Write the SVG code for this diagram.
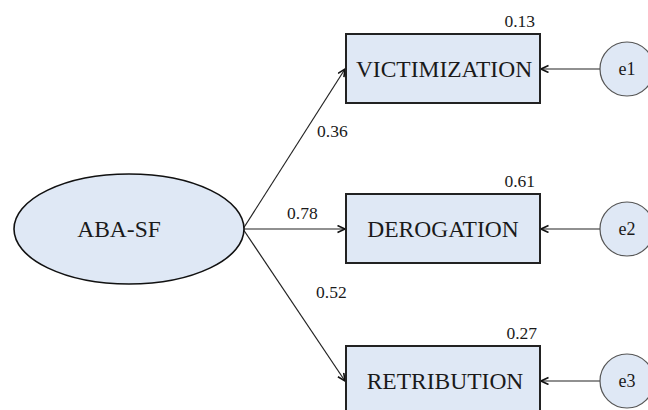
<svg xmlns="http://www.w3.org/2000/svg" width="648" height="410" viewBox="0 0 648 410">
  <defs>
    <marker id="arr" markerWidth="10" markerHeight="10" refX="8.5" refY="4" orient="auto" markerUnits="userSpaceOnUse">
      <path d="M1,0.5 L8.5,4 L1,7.5" fill="none" stroke="#111" stroke-width="1.6"/>
    </marker>
  </defs>
  <style>
    .box { fill: #dfe8f5; stroke: #222; stroke-width: 2; }
    .lat { fill: #dfe8f5; stroke: #111; stroke-width: 1.6; }
    .err { fill: #dfe8f5; stroke: #555; stroke-width: 1.2; }
    .big { font-family: "Liberation Serif", "Times New Roman", serif; font-size: 23.5px; fill: #1a1a1a; text-anchor: middle; }
    .num { font-family: "Liberation Serif", "Times New Roman", serif; font-size: 17.5px; fill: #1a1a1a; }
    .e { font-family: "Liberation Serif", "Times New Roman", serif; font-size: 18px; fill: #1a1a1a; text-anchor: middle; }
    .conn { stroke: #222; stroke-width: 1.2; fill: none; marker-end: url(#arr); }
  </style>
  <rect width="648" height="410" fill="#ffffff"/>

  <g id="connectors">
    <line class="conn" x1="243" y1="229" x2="345" y2="69"/>
    <line class="conn" x1="243" y1="229" x2="345" y2="229"/>
    <line class="conn" x1="243" y1="229" x2="345" y2="381"/>
    <line class="conn" x1="600" y1="69" x2="541" y2="69"/>
    <line class="conn" x1="600" y1="229" x2="541" y2="229"/>
    <line class="conn" x1="600" y1="381" x2="541" y2="381"/>
    <text class="num" x="317" y="137">0.36</text>
    <text class="num" x="287" y="219">0.78</text>
    <text class="num" x="316" y="298">0.52</text>
  </g>

  <g id="aba-sf">
    <ellipse class="lat" cx="129" cy="229" rx="115" ry="55"/>
    <text class="big" x="119" y="237" font-size="22">ABA-SF</text>
  </g>

  <g id="victimization">
    <rect class="box" x="346" y="34" width="194" height="69"/>
    <text class="big" x="444" y="77">VICTIMIZATION</text>
    <text class="num" x="535" y="27" text-anchor="end">0.13</text>
  </g>

  <g id="derogation">
    <rect class="box" x="346" y="194" width="194" height="69"/>
    <text class="big" x="443" y="237">DEROGATION</text>
    <text class="num" x="535" y="187" text-anchor="end">0.61</text>
  </g>

  <g id="retribution">
    <rect class="box" x="346" y="346" width="194" height="69"/>
    <text class="big" x="445" y="389">RETRIBUTION</text>
    <text class="num" x="537" y="339" text-anchor="end">0.27</text>
  </g>

  <g id="e1">
    <circle class="err" cx="627" cy="69" r="27"/>
    <text class="e" x="627" y="75">e1</text>
  </g>
  <g id="e2">
    <circle class="err" cx="627" cy="229" r="27"/>
    <text class="e" x="627" y="235">e2</text>
  </g>
  <g id="e3">
    <circle class="err" cx="627" cy="381" r="27"/>
    <text class="e" x="627" y="387">e3</text>
  </g>
</svg>
